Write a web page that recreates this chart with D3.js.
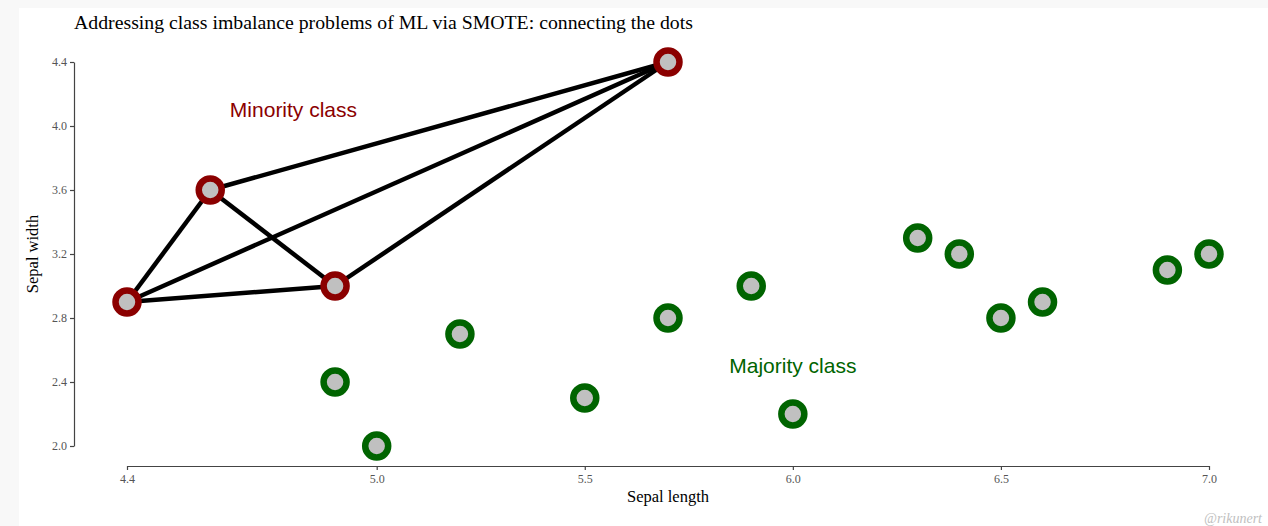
<!DOCTYPE html>
<html>
<head>
<meta charset="utf-8">
<script src="https://cdn.jsdelivr.net/npm/d3@7"></script>
<style>
html,body{margin:0;padding:0;background:#f8f8f8;}
svg{display:block;}
</style>
</head>
<body>
<svg id="chart" width="1268" height="526"></svg>
<script>
const minorityX = [4.4, 4.6, 4.9, 5.7];
const minorityY = [2.9, 3.6, 3.0, 4.4];
const majorityX = [4.9, 5.0, 5.2, 5.5, 5.7, 5.9, 6.0, 6.3, 6.4, 6.5, 6.6, 6.9, 7.0];
const majorityY = [2.4, 2.0, 2.7, 2.3, 2.8, 3.0, 2.2, 3.3, 3.2, 2.8, 2.9, 3.1, 3.2];
const xTicks = [4.4, 5.0, 5.5, 6.0, 6.5, 7.0];
const yTicks = [2.0, 2.4, 2.8, 3.2, 3.6, 4.0, 4.4];
const titleText = "Addressing class imbalance problems of ML via SMOTE: connecting the dots";
const xLabel = "Sepal length";
const yLabel = "Sepal width";
const minorityLabel = {text: "Minority class", x: 4.8, y: 4.1};
const majorityLabel = {text: "Majority class", x: 6.0, y: 2.5};
const credit = "@rikunert";

const svg = d3.select("#chart");
svg.append("rect").attr("x", 19).attr("y", 8).attr("width", 1268 - 19).attr("height", 526 - 8).attr("fill", "#ffffff");

const x = d3.scaleLinear().domain([4.4, 7.0]).range([127, 1209]);
const y = d3.scaleLinear().domain([2.0, 4.4]).range([446, 62]);

const serif = "'Liberation Serif','Times New Roman',serif";
const sans = "'Liberation Sans',Arial,sans-serif";

// axes
const xAxis = svg.append("g").attr("transform", "translate(0,466)")
  .call(d3.axisBottom(x).tickValues(xTicks).tickFormat(d3.format(".1f")).tickSize(4).tickSizeOuter(0));
const yAxis = svg.append("g").attr("transform", "translate(74,0)")
  .call(d3.axisLeft(y).tickValues(yTicks).tickFormat(d3.format(".1f")).tickSize(4).tickSizeOuter(0));
[xAxis, yAxis].forEach(g => {
  g.select(".domain").attr("stroke", "#444").attr("stroke-width", 1.2);
  g.selectAll(".tick line").attr("stroke", "#444").attr("stroke-width", 1.2);
  g.selectAll(".tick text").attr("fill", "#555").style("font-family", serif).style("font-size", "12px");
});
xAxis.selectAll(".tick text").attr("dy", "0.85em");

// title
svg.append("text").attr("x", 74).attr("y", 29).text(titleText)
  .style("font-family", serif).style("font-size", "19.8px").attr("fill", "#000");

// axis labels
svg.append("text").attr("x", (x(4.4) + x(7.0)) / 2).attr("y", 502).attr("text-anchor", "middle")
  .text(xLabel).style("font-family", serif).style("font-size", "16.5px").attr("fill", "#000");
svg.append("text").attr("transform", `translate(38,${(y(2.0) + y(4.4)) / 2}) rotate(-90)`).attr("text-anchor", "middle")
  .text(yLabel).style("font-family", serif).style("font-size", "16.5px").attr("fill", "#000");

// SMOTE connecting lines
const minPts = minorityX.map((v, i) => [v, minorityY[i]]);
const pairs = [];
for (let i = 0; i < minPts.length; i++) for (let j = i + 1; j < minPts.length; j++) pairs.push([minPts[i], minPts[j]]);
svg.append("g").selectAll("line").data(pairs).join("line")
  .attr("x1", d => x(d[0][0])).attr("y1", d => y(d[0][1]))
  .attr("x2", d => x(d[1][0])).attr("y2", d => y(d[1][1]))
  .attr("stroke", "#000").attr("stroke-width", 4.5);

// points
const majPts = majorityX.map((v, i) => [v, majorityY[i]]);
svg.append("g").selectAll("circle").data(majPts).join("circle")
  .attr("cx", d => x(d[0])).attr("cy", d => y(d[1])).attr("r", 11.5)
  .attr("fill", "#c0c0c0").attr("stroke", "#006400").attr("stroke-width", 6.5);
svg.append("g").selectAll("circle").data(minPts).join("circle")
  .attr("cx", d => x(d[0])).attr("cy", d => y(d[1])).attr("r", 11.5)
  .attr("fill", "#c0c0c0").attr("stroke", "#8b0000").attr("stroke-width", 6.5);

// annotations
svg.append("text").attr("x", x(minorityLabel.x)).attr("y", y(minorityLabel.y)).attr("dy", "0.35em")
  .attr("text-anchor", "middle").text(minorityLabel.text)
  .style("font-family", sans).style("font-size", "21px").attr("fill", "#8b0000");
svg.append("text").attr("x", x(majorityLabel.x)).attr("y", y(majorityLabel.y)).attr("dy", "0.35em")
  .attr("text-anchor", "middle").text(majorityLabel.text)
  .style("font-family", sans).style("font-size", "21px").attr("fill", "#006400");

// credit
svg.append("text").attr("x", 1262).attr("y", 523).attr("text-anchor", "end").text(credit)
  .style("font-family", serif).style("font-style", "italic").style("font-size", "14px").attr("fill", "#c0c0c0");
</script>
</body>
</html>
